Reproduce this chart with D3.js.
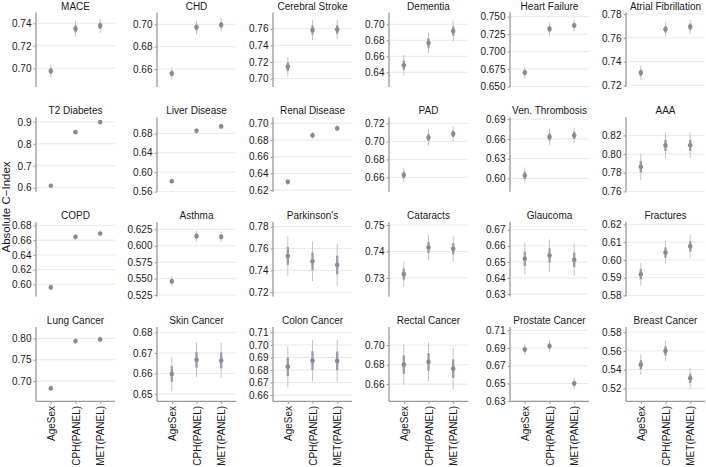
<!DOCTYPE html>
<html><head><meta charset="utf-8">
<script src="https://cdn.jsdelivr.net/npm/d3@7"></script>
<style>body{margin:0;background:#fff}svg{display:block}text{font-family:"Liberation Sans",Arial,sans-serif}</style>
</head><body><svg id="c" width="706" height="467"></svg>
<script>
const models = ["AgeSex", "CPH(PANEL)", "MET(PANEL)"];
const diseases = ["MACE","CHD","Cerebral Stroke","Dementia","Heart Failure","Atrial Fibrillation",
  "T2 Diabetes","Liver Disease","Renal Disease","PAD","Ven. Thrombosis","AAA",
  "COPD","Asthma","Parkinson's","Cataracts","Glaucoma","Fractures",
  "Lung Cancer","Skin Cancer","Colon Cancer","Rectal Cancer","Prostate Cancer","Breast Cancer"];
// C-index estimates per disease: [AgeSex, CPH(PANEL), MET(PANEL)]
const cindex = [
  [0.6976,0.7352,0.7378],[0.6560,0.6973,0.6994],[0.7144,0.7584,0.7590],[0.6488,0.6766,0.6916],
  [0.6702,0.7325,0.7373],[0.7306,0.7671,0.7693],
  [0.6090,0.8530,0.8986],[0.5814,0.6854,0.6944],[0.6299,0.6856,0.6940],[0.6626,0.7044,0.7084],
  [0.6045,0.6630,0.6651],[0.7864,0.8093,0.8094],
  [0.5959,0.6645,0.6691],[0.5460,0.6146,0.6136],[0.7532,0.7483,0.7450],[0.7314,0.7415,0.7410],
  [0.6519,0.6539,0.6513],[0.5919,0.6041,0.6076],
  [0.6829,0.7937,0.7977],[0.6597,0.6666,0.6663],[0.6826,0.6875,0.6873],[0.6800,0.6828,0.6759],
  [0.6884,0.6923,0.6500],[0.5453,0.5600,0.5307]];
// half-width of the outer (thin) interval
const outerHalf = [
  [0.006,0.007,0.0062],[0.0055,0.006,0.006],[0.0115,0.012,0.0115],[0.013,0.013,0.013],
  [0.0085,0.0094,0.0085],[0.006,0.006,0.006],
  [0.003,0.003,0.003],[0.007,0.006,0.006],[0.004,0.004,0.004],[0.0083,0.009,0.008],
  [0.012,0.012,0.012],[0.014,0.0135,0.0135],
  [0.004,0.004,0.004],[0.008,0.008,0.008],[0.018,0.018,0.019],[0.0047,0.0047,0.0047],
  [0.010,0.010,0.010],[0.0065,0.0065,0.0065],
  [0.007,0.007,0.007],[0.0085,0.0085,0.0085],[0.0165,0.0165,0.0165],[0.021,0.02,0.021],
  [0.0065,0.0065,0.0065],[0.011,0.011,0.011]];
// half-width of the inner (thick) interval
const innerHalf = outerHalf.map(r => r.map(v => v * 0.45));
// y-axis limits
const yLimits = [
  [0.6834,0.7496],[0.6439,0.7106],[0.690,0.7794],[0.6216,0.7148],[0.6495,0.7559],[0.7186,0.7813],
  [0.5818,0.9205],[0.5595,0.7132],[0.618,0.7073],[0.644,0.7268],[0.5797,0.6927],[0.7596,0.8394],
  [0.5834,0.6845],[0.5227,0.636],[0.7161,0.7841],[0.7229,0.7511],[0.6284,0.6747],[0.5793,0.6213],
  [0.6523,0.827],[0.6463,0.6827],[0.655,0.7144],[0.6423,0.7187],[0.6298,0.7139],[0.5061,0.5856]];
// y tick labels per panel
const yTicks = [
  ["0.70","0.72","0.74"],["0.66","0.68","0.70"],["0.70","0.72","0.74","0.76"],["0.64","0.66","0.68","0.70"],
  ["0.650","0.675","0.700","0.725","0.750"],["0.72","0.74","0.76","0.78"],
  ["0.6","0.7","0.8","0.9"],["0.56","0.60","0.64","0.68"],["0.62","0.64","0.66","0.68","0.70"],["0.66","0.68","0.70","0.72"],
  ["0.60","0.63","0.66","0.69"],["0.76","0.78","0.80","0.82"],
  ["0.60","0.62","0.64","0.66","0.68"],["0.525","0.550","0.575","0.600","0.625"],["0.72","0.74","0.76","0.78"],["0.73","0.74","0.75"],
  ["0.63","0.64","0.65","0.66","0.67"],["0.58","0.59","0.60","0.61","0.62"],
  ["0.70","0.75","0.80"],["0.65","0.66","0.67","0.68"],["0.66","0.67","0.68","0.69","0.70","0.71"],["0.66","0.68","0.70"],
  ["0.63","0.65","0.67","0.69","0.71"],["0.52","0.54","0.56","0.58"]];
const yTitle = "Absolute C\u2212Index";

// layout
const colLeft = [36, 157, 273, 389, 510, 626];
const panelW = 79, panelH = 74.5, rowTop0 = 12.5, rowStep = 104.8;
const ncol = 6, nrow = 4;
const cPoint = "#868c96", cThick = "#9aa0a9", cThin = "#c0c4ca", cAxis = "#9a9a9a", cGrid = "#e6e6e6", cText = "#1a1a1a";
const fs = "10px";

const svg = d3.select("#c");
diseases.forEach((name, i) => {
  const r = Math.floor(i / ncol), c = i % ncol;
  const x0 = colLeft[c], y0 = rowTop0 + r * rowStep;
  const g = svg.append("g").attr("transform", `translate(${x0},${y0})`);
  const x = d3.scalePoint().domain(models).range([0, panelW]).padding(0.6);
  const y = d3.scaleLinear().domain(yLimits[i]).range([panelH, 0]);
  const ticks = yTicks[i].map(Number);
  // grid
  g.selectAll("line.grid").data(ticks).join("line")
    .attr("x1", 0).attr("x2", panelW).attr("y1", d => y(d)).attr("y2", d => y(d))
    .attr("stroke", cGrid).attr("stroke-width", 0.9);
  // y axis
  const ya = d3.axisLeft(y).tickValues(ticks).tickFormat((d, k) => yTicks[i][k]).tickSize(2.5).tickPadding(2);
  const yg = g.append("g").call(ya);
  yg.select(".domain").attr("stroke", cAxis).attr("stroke-width", 1.3).attr("d", `M0,0V${panelH}`);
  yg.selectAll(".tick line").attr("stroke", cAxis).attr("stroke-width", 1);
  yg.selectAll(".tick text").attr("fill", cText).style("font-size", fs).style("font-family", "Liberation Sans, Arial, sans-serif");
  // x axis only in bottom row
  if (r === nrow - 1) {
    const xa = d3.axisBottom(x).tickSize(2.5).tickPadding(2);
    const xg = g.append("g").attr("transform", `translate(0,${panelH})`).call(xa);
    xg.select(".domain").attr("stroke", cAxis).attr("stroke-width", 1.3).attr("d", `M0,0H${panelW}`);
    xg.selectAll(".tick line").attr("stroke", cAxis);
    xg.selectAll(".tick text").attr("fill", cText).style("font-size", fs)
      .style("font-family", "Liberation Sans, Arial, sans-serif")
      .attr("transform", "rotate(-90)").attr("text-anchor", "end")
      .attr("x", -4.5).attr("y", 0).attr("dy", "0.35em");
  }
  // title
  g.append("text").attr("x", panelW / 2).attr("y", -3).attr("text-anchor", "middle")
    .attr("fill", cText).style("font-size", fs).text(name);
  // marks
  const data = models.map((m, k) => ({m, v: cindex[i][k], o: outerHalf[i][k], n: innerHalf[i][k]}));
  g.selectAll("line.thin").data(data).join("line")
    .attr("x1", d => x(d.m)).attr("x2", d => x(d.m))
    .attr("y1", d => y(d.v - d.o)).attr("y2", d => y(d.v + d.o))
    .attr("stroke", cThin).attr("stroke-width", 1);
  g.selectAll("line.thick").data(data).join("line")
    .attr("x1", d => x(d.m)).attr("x2", d => x(d.m))
    .attr("y1", d => y(d.v - d.n)).attr("y2", d => y(d.v + d.n))
    .attr("stroke", cThick).attr("stroke-width", 2.4);
  g.selectAll("circle").data(data).join("circle")
    .attr("cx", d => x(d.m)).attr("cy", d => y(d.v)).attr("r", 2.3).attr("fill", cPoint);
});
svg.append("text").attr("transform", `translate(10,${rowTop0 + (3 * rowStep + panelH) / 2}) rotate(-90)`)
  .attr("text-anchor", "middle").attr("fill", cText).style("font-size", "11.5px").text(yTitle);
</script></body></html>
